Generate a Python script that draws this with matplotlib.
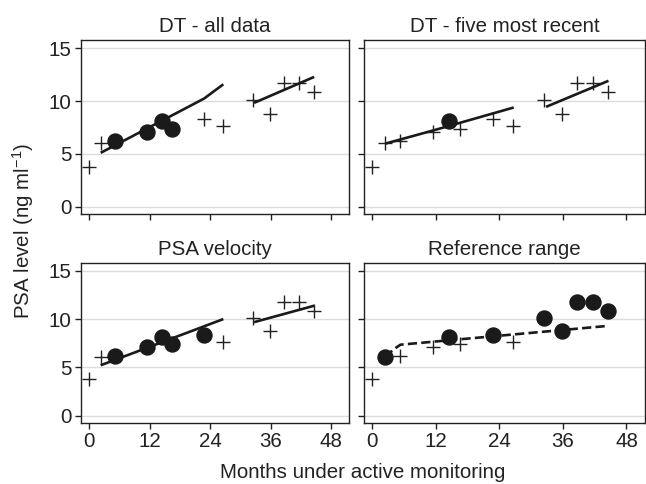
import matplotlib
matplotlib.use("Agg")
import matplotlib.pyplot as plt

plt.rcParams['font.family'] = ['Liberation Sans', 'DejaVu Sans']
plt.rcParams['mathtext.fontset'] = 'custom'
plt.rcParams['mathtext.rm'] = 'Liberation Sans'
plt.rcParams['mathtext.it'] = 'Liberation Sans'

# observed PSA values
months = [0, 2.4, 5.2, 11.4, 14.4, 16.5, 22.8, 26.6, 32.5, 35.9, 38.7, 41.6, 44.6]
psa = [3.8, 6.05, 6.2, 7.1, 8.1, 7.4, 8.35, 7.65, 10.1, 8.8, 11.75, 11.75, 10.85]

# which observations are drawn as filled dots in each panel
used_dt_all = [2, 3, 4, 5]
used_dt_recent = [4]
used_velocity = [2, 3, 4, 5, 6]
used_reference = [1, 4, 6, 8, 9, 10, 11, 12]

# fitted lines
dt_all_x1 = [2.3, 22.8, 26.6]
dt_all_y1 = [5.1, 10.25, 11.6]
dt_all_x2 = [32.7, 44.6]
dt_all_y2 = [9.84, 12.3]

dt_recent_x1 = [2.4, 11.6, 26.7]
dt_recent_y1 = [5.97, 7.24, 9.4]
dt_recent_x2 = [32.8, 44.6]
dt_recent_y2 = [9.46, 11.93]

velocity_x1 = [2.3, 26.6]
velocity_y1 = [5.22, 10.0]
velocity_x2 = [32.7, 44.6]
velocity_y2 = [9.68, 11.38]

reference_x = [2.4, 4.2, 5.3, 44.6]
reference_y = [6.1, 6.95, 7.35, 9.3]

titles = ['DT - all data', 'DT - five most recent', 'PSA velocity', 'Reference range']
xticks = [0, 12, 24, 36, 48]
yticks = [0, 5, 10, 15]

W, H = 646, 484
fig = plt.figure(figsize=(W / 100, H / 100), dpi=100)

def px_axes(x0, x1, y0, y1):
    return fig.add_axes([x0 / W, 1 - y1 / H, (x1 - x0) / W, (y1 - y0) / H])

ax1 = px_axes(81, 349, 40, 214)
ax2 = px_axes(364, 645, 40, 214)
ax3 = px_axes(81, 349, 263, 422.5)
ax4 = px_axes(364, 645, 263, 422.5)
axes = [ax1, ax2, ax3, ax4]
used = [used_dt_all, used_dt_recent, used_velocity, used_reference]

for i, ax in enumerate(axes):
    ax.set_xlim(-1.6, 51.5)
    ax.set_ylim(-0.7, 15.8)
    ax.set_xticks(xticks)
    ax.set_yticks(yticks)
    for y in yticks:
        ax.axhline(y, color='#dcdcdc', lw=1.0, zorder=0)
    for s in ax.spines.values():
        s.set_color('#222222')
        s.set_linewidth(1.0)
    ax.tick_params(direction='out', length=4, width=1, colors='#222222',
                   labelsize=14.8, pad=3)
    ax.set_title(titles[i], fontsize=14.8, color='#222222', pad=6)
    if i < 2:
        ax.tick_params(labelbottom=False)
    if i % 2 == 1:
        ax.tick_params(labelleft=False)

    crosses = [k for k in range(len(months)) if k not in used[i]]
    ax.plot([months[k] for k in crosses], [psa[k] for k in crosses], '+',
            color='#222222', ms=9.4, mew=1.0, zorder=3)
    ax.plot([months[k] for k in used[i]], [psa[k] for k in used[i]], 'o',
            color='#1a1a1a', ms=10.8, zorder=4)

line_kw = dict(color='#1a1a1a', lw=1.9, solid_capstyle='butt', zorder=3)
ax1.plot(dt_all_x1, dt_all_y1, **line_kw)
ax1.plot(dt_all_x2, dt_all_y2, **line_kw)
ax2.plot(dt_recent_x1, dt_recent_y1, **line_kw)
ax2.plot(dt_recent_x2, dt_recent_y2, **line_kw)
ax3.plot(velocity_x1, velocity_y1, **line_kw)
ax3.plot(velocity_x2, velocity_y2, **line_kw)
ax4.plot(reference_x, reference_y, color='#1a1a1a', lw=1.9,
         linestyle=(0, (3.5, 1.6)), zorder=3)

fig.text(23 / W, 1 - 231 / H, r'PSA level (ng ml$^{\mathrm{-1}}$)', rotation=90,
         ha='center', va='center', fontsize=14.8, color='#222222')
fig.text(363 / W, 1 - 473 / H, 'Months under active monitoring',
         ha='center', va='center', fontsize=14.8, color='#222222')

fig.savefig('out.png', dpi=100)
